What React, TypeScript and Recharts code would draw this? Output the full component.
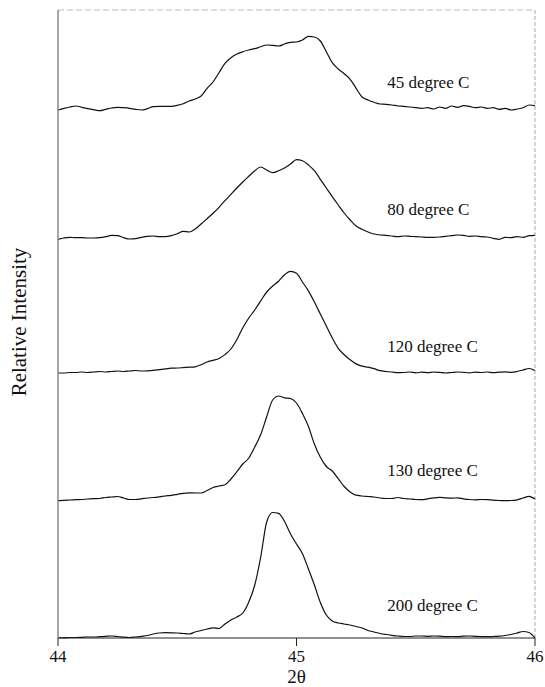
import { LineChart, Line, XAxis, YAxis, ReferenceLine, ReferenceDot } from "recharts";

const FONT = "'Liberation Serif', 'Times New Roman', serif";

// 2-theta sampling grid, 44 to 46 in 0.025 steps
const twoTheta = Array.from({ length: 81 }, (_, i) => +(44 + i * 0.025).toFixed(3));

const seriesNames = ["45 degree C", "80 degree C", "120 degree C", "130 degree C", "200 degree C"];
const seriesKeys = ["t45", "t80", "t120", "t130", "t200"];

// vertical stacking offset of each trace (relative intensity units)
const offsets = [529, 400, 267, 138, 1];
// where the trace labels sit
const labelTheta = 45.38;
const labelHeights = [556, 429, 292, 168, 33];

const int45 = [-1, 0.7, 2, 3, 1.7, 0.3, -0.7, -1.7, -0.3, 1, 1.7, 1.3, 0.7, -0.3, -1, 0.3, 2.3, 2.7, 2.7, 2.7,
  3.7, 5.3, 8, 10, 13, 20.7, 27, 36.3, 45.7, 51.3, 55, 57.3, 59, 60.3, 62.3, 64, 63.7, 63, 65, 66.7,
  67, 69, 72.7, 72, 68, 57.3, 46.3, 40, 35.3, 29.7, 20.7, 12, 9, 6.7, 5, 4.7, 4, 3, 2.7, 2,
  1.3, 0.7, 1.3, 0, 2, 0.7, 3, 1.7, 3.3, 2.7, 1.3, 2, 0.7, 1.3, -0.3, 0.7, -1, 0, 1.3, 4, 3.3];

const int80 = [-1.3, 0, 0.7, 0.3, 0.3, 0, 0, 0.3, 1.3, 2.7, 2.3, 0.3, -1, -0.7, 0.7, 1.7, 2, 1.3, 1.3, 2.3,
  4.3, 6.7, 6, 9, 14, 19.3, 24.7, 30.7, 37.3, 43.7, 50, 56, 61.7, 67.3, 71, 68, 65.3, 67.3, 70, 74,
  78.3, 77.3, 73, 67.3, 58.7, 50, 41.3, 33, 25, 18, 12, 8.7, 6, 4, 3, 2.7, 2, 1.3, 2, 1.7,
  1.3, 1, 0.7, 0.7, 1, 1.7, 2.3, 3, 2.7, 1.7, 2, 1.3, 1, -0.3, -1.3, 0.7, 0.3, 1.3, 0.7, 2.3, 2.7];

const int120 = [-2, -2, -1.5, -1.5, -1, -1.5, -1, -0.5, -1, -0.5, 0, -0.5, 0, 0.5, 0, 0.2, 0.7, 1.4, 2.1, 2.8,
  3, 3.4, 3.8, 4.2, 6.3, 9, 10.7, 12.5, 16.4, 22, 31.5, 43.3, 53, 61, 70.2, 79, 85, 89.8, 96.3, 99.6,
  97.8, 89, 80.1, 68.9, 56.9, 45, 33, 22.7, 16.3, 11.2, 7.1, 4.8, 3.8, 2.3, 0.3, -0.5, -1, -1.7, -1.5, -1,
  -1.8, -1.2, -1.6, -1, -1.4, -2, -1.5, -1, -1.3, -1.8, -1.2, -1.5, -1, -1.6, -1.2, -0.8, -1.3, -0.5, 1, 2.5, 0.5];

const int130 = [-0.7, -0.3, 0, 0.3, 0.5, 1, 1.3, 1.5, 2.5, 3, 3.5, 2, 0.5, 0.5, 1.2, 2, 2.5, 3.2, 4, 4.7,
  5.7, 6.7, 7.2, 7, 7, 9.5, 12.5, 14, 15.2, 21, 28.3, 36, 42, 53, 65.5, 83.3, 100, 104, 102.2, 101.5,
  97, 86.5, 73.5, 56, 42.7, 33.5, 29, 21.3, 13.5, 8.1, 4.8, 4, 3.5, 3, 2, 1.5, 1.5, 2.5, 1.5, 1,
  0.5, 0.3, 1.2, 2.2, 2.7, 2.2, 1.8, 2.2, 1.2, 0.5, 0.2, 0.5, 0.3, -0.2, -0.5, -0.7, -0.5, 0.2, 2, 3.7, 1];

const int200 = [-0.5, -0.8, -0.5, -0.5, -0.3, 0, 0, 0.3, 0.7, 1, 0.5, -0.2, -0.5, 0, 0.7, 1.5, 3, 4, 4.3, 4.2,
  4, 3.5, 3, 5, 6.5, 8, 9.2, 8.4, 13, 17, 20, 24, 35, 52, 80, 115, 124.5, 123.7, 115.5, 103,
  93, 83.3, 68, 52, 34.5, 22, 16, 14, 13, 12, 10.5, 9, 6.5, 5, 3.5, 2.5, 1.7, 1, 0.5, 0.5,
  1, 1, 0.7, 1, 0.8, 0.4, 0.5, 0.3, 0.8, 1, 0.6, 0.4, 0.3, 0.5, 0.8, 1.5, 2.5, 4, 5.5, 4.5, -1];

const intensities = [int45, int80, int120, int130, int200];

const data = twoTheta.map((t, i) => {
  const row: any = { t };
  seriesKeys.forEach((k, s) => {
    row[k] = intensities[s][i] + offsets[s];
  });
  return row;
});

export default function App() {
  return (
    <div style={{ position: "absolute", left: 0, top: 0 }}>
      <LineChart
        width={545}
        height={687}
        data={data}
        margin={{ top: 10, right: 10, bottom: 0, left: 0 }}
        style={{ fontFamily: FONT, background: "#fff" }}
      >
        <XAxis
          dataKey="t"
          type="number"
          domain={[44, 46]}
          ticks={[44, 45, 46]}
          height={49}
          tickSize={8}
          tickMargin={4}
          axisLine={{ stroke: "#222" }}
          tickLine={{ stroke: "#222" }}
          tick={{ fill: "#111", fontSize: 17, fontFamily: FONT }}
          label={{ value: "2θ", position: "insideBottom", offset: 4, fill: "#111", fontSize: 19, fontFamily: FONT }}
        />
        <YAxis
          type="number"
          domain={[0, 628]}
          width={58}
          tick={false}
          tickLine={false}
          axisLine={{ stroke: "#888", strokeWidth: 1.5 }}
          label={{
            content: () => (
              <text x={26} y={322} transform="rotate(-90 26 322)" textAnchor="middle" fill="#111" fontSize={21} fontFamily={FONT}>
                Relative Intensity
              </text>
            ),
          }}
        />
        <ReferenceLine y={628} stroke="#bbb" strokeDasharray="6 3" />
        <ReferenceLine x={46} stroke="#aaa" strokeDasharray="4 2" />
        {seriesKeys.map((k) => (
          <Line key={k} dataKey={k} type="monotone" stroke="#111" strokeWidth={1.2} dot={false} isAnimationActive={false} />
        ))}
        {seriesNames.map((name, i) => (
          <ReferenceDot
            key={name}
            x={labelTheta}
            y={labelHeights[i]}
            r={0}
            fill="none"
            stroke="none"
            label={{ value: name, position: "right", offset: 0, fill: "#111", fontSize: 17, fontFamily: FONT }}
          />
        ))}
      </LineChart>
    </div>
  );
}
